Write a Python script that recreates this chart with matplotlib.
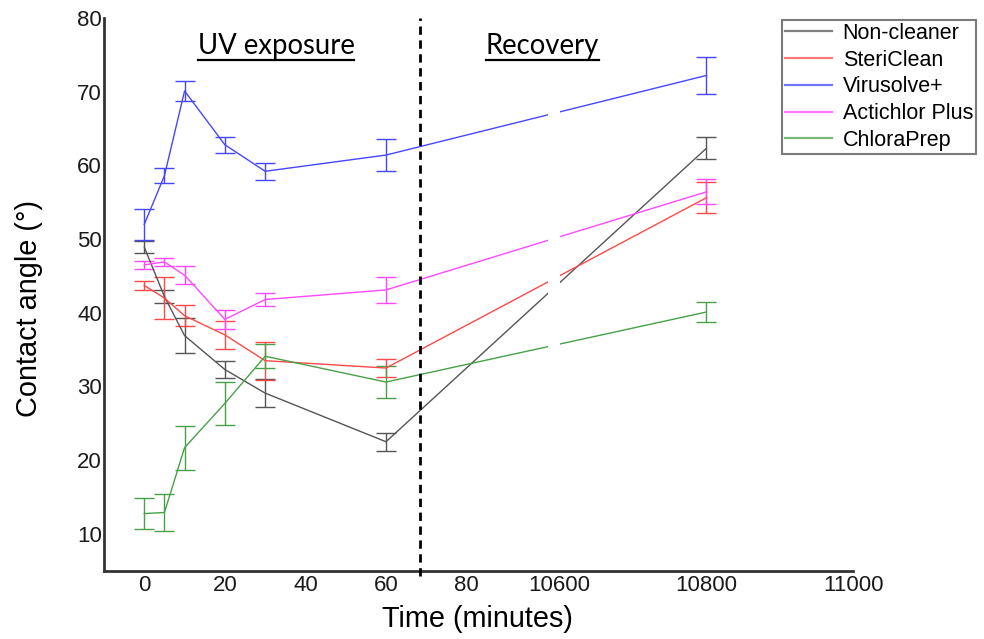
import numpy as np
import matplotlib
matplotlib.use("Agg")
import matplotlib.pyplot as plt
from matplotlib.patches import Rectangle
from matplotlib.lines import Line2D

plt.rcParams['font.family'] = ['Liberation Sans', 'DejaVu Sans']

# ---------------- data ----------------
times = [0, 5, 10, 20, 30, 60, 10800]
series_names = ["Non-cleaner", "SteriClean", "Virusolve+", "Actichlor Plus", "ChloraPrep"]
non_cleaner = [48.9, 42.2, 36.9, 32.3, 29.1, 22.5, 62.3]
non_cleaner_err = [0.8, 0.85, 2.4, 1.2, 1.85, 1.2, 1.5]
stericlean = [43.7, 42.0, 39.6, 37.0, 33.5, 32.5, 55.6]
stericlean_err = [0.6, 2.8, 1.4, 1.9, 2.6, 1.2, 2.1]
virusolve = [52.0, 58.6, 70.1, 62.8, 59.2, 61.4, 72.2]
virusolve_err = [2.1, 1.0, 1.4, 1.1, 1.15, 2.2, 2.45]
actichlor = [46.5, 46.9, 45.1, 39.1, 41.8, 43.1, 56.4]
actichlor_err = [0.5, 0.6, 1.2, 1.3, 0.85, 1.8, 1.7]
chloraprep = [12.75, 12.9, 21.7, 27.7, 34.1, 30.6, 40.1]
chloraprep_err = [2.05, 2.5, 3.0, 2.9, 1.6, 2.2, 1.35]
colors = ['#555555', '#ff4848', '#4646ff', '#ff48ff', '#48a048']

xtick_vals = [0, 20, 40, 60, 80, 10600, 10800, 11000]
xtick_labels = ['0', '20', '40', '60', '80', '10600', '10800', '11000']
ytick_vals = [10, 20, 30, 40, 50, 60, 70, 80]
phase_split = 68.5  # minutes, end of UV exposure marker

# ------------- broken time scale -------------
def fwd(t):
    t = np.asarray(t, dtype=float)
    return np.where(t <= 80, t,
                    np.where(t < 10600, 80 + (t - 80) * 23.0 / 10520.0,
                             103 + (t - 10600) * 0.1825))

def inv(u):
    u = np.asarray(u, dtype=float)
    return np.where(u <= 80, u,
                    np.where(u < 103, 80 + (u - 80) * 10520.0 / 23.0,
                             10600 + (u - 103) / 0.1825))

fig = plt.figure(figsize=(9.84, 6.39), dpi=100)
ax = fig.add_axes([104/984, 1 - 570.7/639, 749.3/984, 552.7/639])
ax.set_xscale('function', functions=(fwd, inv))

all_vals = [non_cleaner, stericlean, virusolve, actichlor, chloraprep]
all_errs = [non_cleaner_err, stericlean_err, virusolve_err, actichlor_err, chloraprep_err]
handles = []
for name, vals, errs, c in zip(series_names, all_vals, all_errs, colors):
    ax.errorbar(times, vals, yerr=errs, color=c, lw=1.0, elinewidth=1.0,
                capsize=7, capthick=1.0, zorder=2)
    handles.append(Line2D([], [], color=c, lw=1.6, alpha=0.75))

ax.set_xlim(-10, 11000)
ax.set_ylim(5, 80)
ax.set_xticks(xtick_vals)
ax.set_xticklabels(xtick_labels)
ax.set_yticks(ytick_vals)
ax.tick_params(axis='both', length=0, labelsize=16, colors='#1a1a1a')
ax.tick_params(axis='x', pad=3)
ax.tick_params(axis='y', pad=1.5)

for s in ['top', 'right']:
    ax.spines[s].set_visible(False)
for s in ['left', 'bottom']:
    ax.spines[s].set_linewidth(2.0)
    ax.spines[s].set_color('#333333')

# axis break gap in the lines
ax.add_patch(Rectangle((0.592, 0.006), 0.0166, 0.994, transform=ax.transAxes,
                       facecolor='white', edgecolor='none', zorder=2.2))

# phase divider
ax.axvline(phase_split, ymin=-0.01, ymax=1.0, color='black', lw=2.0,
           ls=(0, (3, 2)), clip_on=False, zorder=3)

ax.set_xlabel('Time (minutes)', fontsize=20.8)
ax.xaxis.set_label_coords(0.498, -0.0625)
ax.set_ylabel('Contact angle (°)', fontsize=20.8)
ax.yaxis.set_label_coords(-0.0814, 0.4735)

t1 = ax.text(0.2295, 0.934, 'UV exposure', transform=ax.transAxes, ha='center',
             va='baseline', fontsize=19.8, family='Lato', zorder=5)
t2 = ax.text(0.585, 0.934, 'Recovery', transform=ax.transAxes, ha='center',
             va='baseline', fontsize=19.8, family='Lato', zorder=5)

leg = fig.legend(handles, series_names, loc='upper left',
                 bbox_to_anchor=(781.7/984, 1 - 19.5/639), borderaxespad=0,
                 fontsize=15.5, handlelength=2.2, handletextpad=0.48,
                 labelspacing=0.27, borderpad=0.15, fancybox=False,
                 framealpha=1, edgecolor='#7a7a7a')
leg.get_frame().set_linewidth(1.5)

# underline the phase labels
fig.canvas.draw()
r = fig.canvas.get_renderer()
for t in (t1, t2):
    bb = t.get_window_extent(renderer=r)
    x0, x1 = bb.x0, bb.x1
    _, ybase = ax.transAxes.transform((0, 0.934))
    ln = Line2D([x0, x1], [ybase - 5.5, ybase - 5.5], transform=None,
                color='black', lw=1.6)
    fig.lines.append(ln)

fig.savefig('out.png', dpi=100)
